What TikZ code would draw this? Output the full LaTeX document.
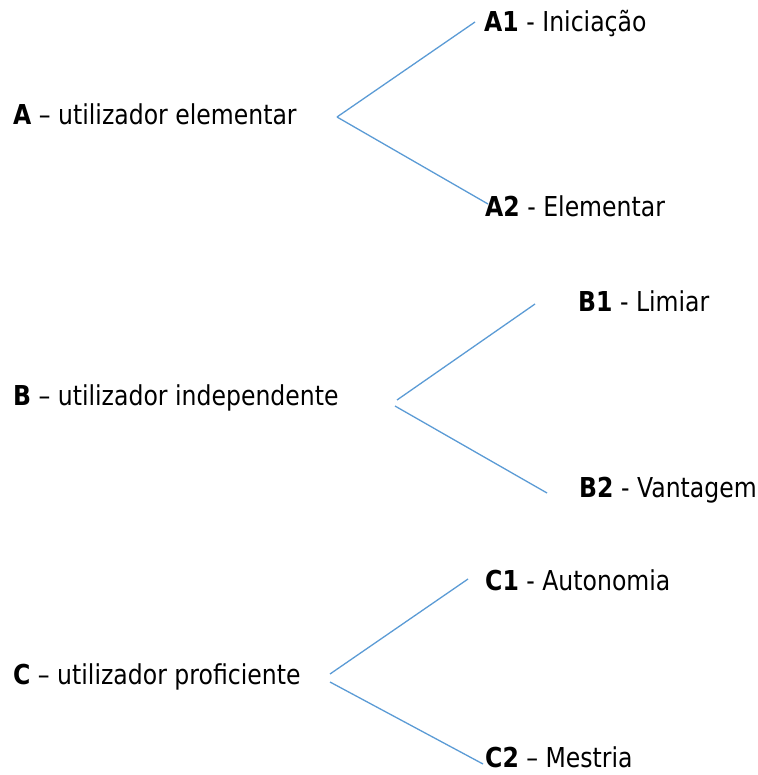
\documentclass[tikz,border=0pt]{standalone}
\usepackage{fontspec}
\setmainfont{DejaVu Sans}[FakeStretch=0.86]
\usepackage{tikz}

\definecolor{linkblue}{HTML}{5B9BD5}
\tikzset{
  grupo/.style={anchor=base west, inner sep=0pt, font=\fontsize{27.4}{33}\selectfont},
  ramo/.style={draw=linkblue, line width=1.3pt}
}

\begin{document}
\begin{tikzpicture}[x=1pt,y=-1pt]
  \useasboundingbox (0,0) rectangle (757,775);

  % niveis
  \node[grupo] (a) at (13,125) {\textbf{A} – utilizador elementar};
  \node[grupo] (b) at (13,405) {\textbf{B} – utilizador independente};
  \node[grupo] (c) at (13,684) {\textbf{C} – utilizador proficiente};

  \node[grupo] (a1) at (484,32) {\textbf{A1} - Iniciação};
  \node[grupo] (a2) at (485,217) {\textbf{A2} - Elementar};
  \node[grupo] (b1) at (578,311) {\textbf{B1} - Limiar};
  \node[grupo] (b2) at (579,497) {\textbf{B2} - Vantagem};
  \node[grupo] (c1) at (485,590) {\textbf{C1} - Autonomia};
  \node[grupo] (c2) at (485,767) {\textbf{C2} – Mestria};

  % bifurcacoes
  \coordinate (fa) at (337,117);
  \coordinate (fb1) at (397,400);
  \coordinate (fb2) at (395,406);
  \coordinate (fc1) at (330,674);
  \coordinate (fc2) at (330,682);

  \draw[ramo] (fa) -- ([shift={(-9,-10)}]a1.base west);
  \draw[ramo] (fa) -- ([shift={(3,-13)}]a2.base west);
  \draw[ramo] (fb1) -- ([shift={(-43,-7)}]b1.base west);
  \draw[ramo] (fb2) -- ([shift={(-32,-4)}]b2.base west);
  \draw[ramo] (fc1) -- ([shift={(-17,-11)}]c1.base west);
  \draw[ramo] (fc2) -- ([shift={(-2,-3)}]c2.base west);
\end{tikzpicture}
\end{document}
